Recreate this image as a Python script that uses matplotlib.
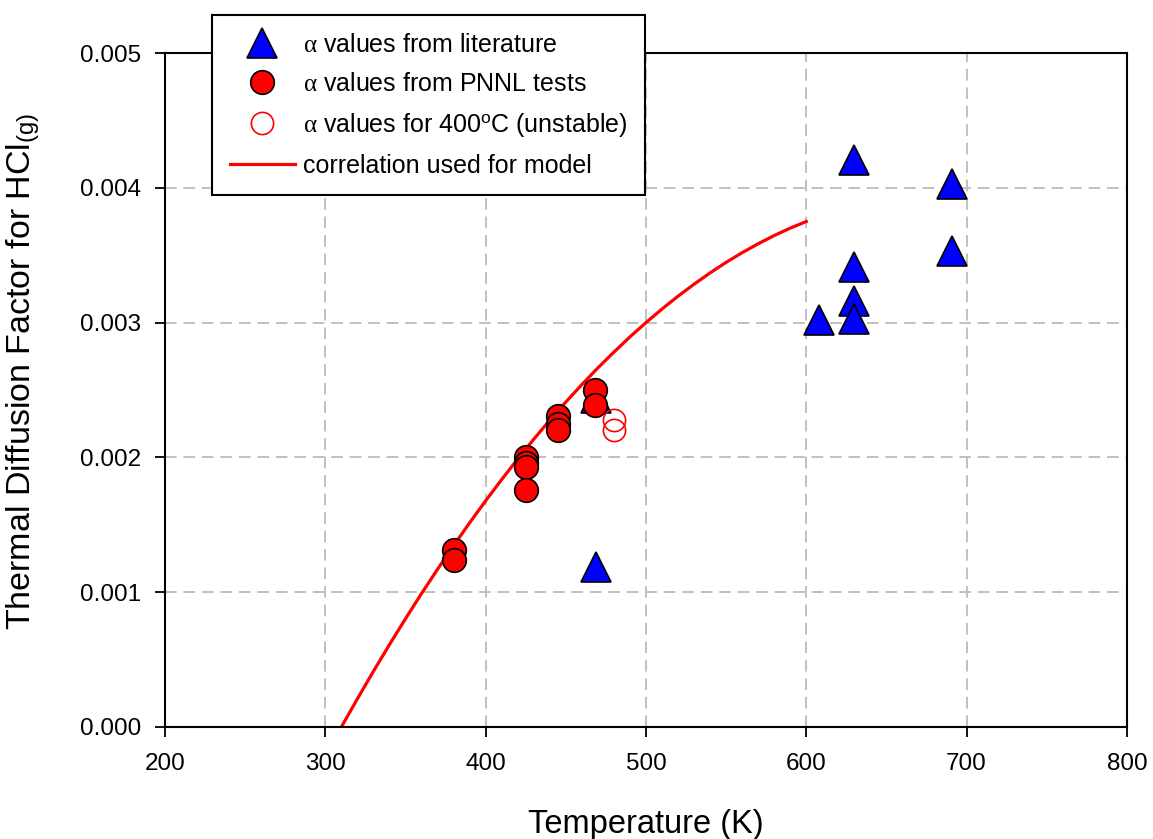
import matplotlib
matplotlib.use("Agg")
import matplotlib.pyplot as plt
from matplotlib.ticker import MultipleLocator, FormatStrFormatter

plt.rcParams['font.family'] = ['Liberation Sans', 'DejaVu Sans']
plt.rcParams['mathtext.fontset'] = 'custom'
plt.rcParams['mathtext.rm'] = 'Liberation Serif'
plt.rcParams['mathtext.it'] = 'Liberation Serif:italic'

# Literature alpha values (blue triangles)
lit_T = [608, 630, 630, 630, 630, 691, 691, 469, 469]
lit_a = [0.00302, 0.00421, 0.00341, 0.00316, 0.00303, 0.00403, 0.00353, 0.00244, 0.00119]

# PNNL test alpha values (filled red circles)
pnnl_T = [380, 380, 425, 425, 425, 425, 445, 445, 445, 468, 468]
pnnl_a = [0.00131, 0.00124, 0.00200, 0.00196, 0.00193, 0.00176,
          0.00231, 0.00225, 0.00220, 0.00250, 0.00239]

# 400 C unstable values (open red circles)
unst_T = [480, 480]
unst_a = [0.00228, 0.00220]

# Correlation curve used for model
corr_T = [310, 320, 330, 340, 350, 360, 370, 380, 390, 400, 410, 420, 430, 440, 450,
          460, 470, 480, 490, 500, 510, 520, 530, 540, 550, 560, 570, 580, 590, 600]
corr_a = [0.0, 0.000209, 0.000413, 0.000611, 0.000803, 0.000990, 0.001170, 0.001345,
          0.001515, 0.001678, 0.001836, 0.001988, 0.002135, 0.002276, 0.002411,
          0.002540, 0.002664, 0.002781, 0.002894, 0.003000, 0.003101, 0.003196,
          0.003285, 0.003369, 0.003447, 0.003519, 0.003585, 0.003646, 0.003701, 0.003750]

fig = plt.figure(figsize=(11.53, 8.39), dpi=100)
ax = fig.add_axes([0.1431, 0.1335, 0.8343, 0.8033])

ax.plot(lit_T, lit_a, linestyle='none', marker='^', markersize=21,
        markerfacecolor='#0000ff', markeredgecolor='black', markeredgewidth=1.2,
        label=r'$\mathrm{α}$ values from literature', zorder=3)
ax.plot(pnnl_T, pnnl_a, linestyle='none', marker='o', markersize=17,
        markerfacecolor='#ff0000', markeredgecolor='black', markeredgewidth=1.2,
        label=r'$\mathrm{α}$ values from PNNL tests', zorder=4)
ax.plot(unst_T, unst_a, linestyle='none', marker='o', markersize=16,
        markerfacecolor='none', markeredgecolor='#ff0000', markeredgewidth=1.2,
        label=r'$\mathrm{α}$ values for 400$^{\mathregular{o}}$C (unstable)', zorder=4)
ax.plot(corr_T, corr_a, color='#ff0000', linewidth=2.3,
        label='correlation used for model', zorder=2)

ax.set_xlim(200, 800)
ax.set_ylim(0, 0.005)
ax.xaxis.set_major_locator(MultipleLocator(100))
ax.yaxis.set_major_locator(MultipleLocator(0.001))
ax.yaxis.set_major_formatter(FormatStrFormatter('%.3f'))

ax.grid(True, color='#c0c0c0', linestyle=(0, (6, 3.5)), linewidth=1.4, zorder=0)
ax.set_axisbelow(True)

for s in ax.spines.values():
    s.set_linewidth(1.5)
    s.set_color('black')

ax.tick_params(axis='both', direction='out', length=7, width=1.3,
               labelsize=17.5, top=False, right=False)
ax.tick_params(axis='y', pad=10)
ax.tick_params(axis='x', pad=12)

ax.set_xlabel('Temperature (K)', fontsize=23.5, labelpad=24)
ax.set_ylabel(r'Thermal Diffusion Factor for HCl$_{\mathregular{(g)}}$', fontsize=24.5)
ax.yaxis.set_label_coords(-0.128, 0.528)

leg = ax.legend(loc='upper left', bbox_to_anchor=(0.049, 1.056), fontsize=18,
                frameon=True, fancybox=False, framealpha=1, edgecolor='black',
                borderpad=0.7, labelspacing=0.6, handlelength=2.6, handletextpad=0.35,
                borderaxespad=0)
leg.get_frame().set_linewidth(1.5)
leg.set_zorder(10)

fig.savefig('out.png', dpi=100)
